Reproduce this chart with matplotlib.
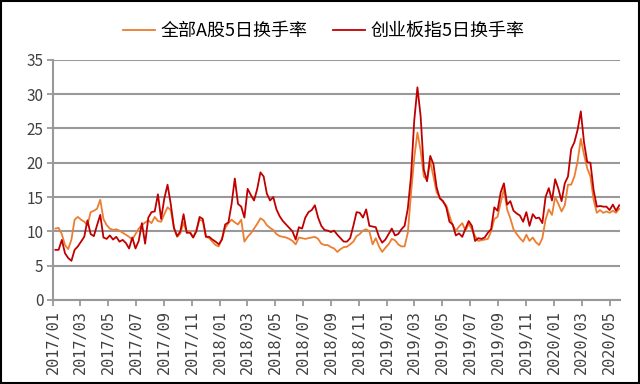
import matplotlib
matplotlib.use('Agg')
import matplotlib.pyplot as plt
import matplotlib.dates as mdates
import pandas as pd

plt.rcParams['font.family'] = ['Noto Sans CJK SC', 'DejaVu Sans']

# 5日换手率（周度读数），起点 2017-01-06
all_a = [10.4, 10.5, 9.6, 8.0, 7.4, 8.8, 11.7, 12.1, 11.7, 11.4,
         10.9, 12.8, 13.0, 13.3, 14.6, 11.8, 10.9, 10.4, 10.2, 10.3,
         10.1, 9.8, 9.5, 9.2, 8.8, 9.6, 10.4, 10.9, 11.3, 11.6,
         11.2, 12.1, 11.5, 11.4, 12.5, 13.5, 13.1, 10.5, 9.2, 9.7,
         11.3, 9.8, 10.0, 9.1, 10.2, 11.7, 11.5, 9.2, 9.0, 8.5,
         8.0, 7.8, 9.0, 10.5, 11.2, 11.7, 11.3, 11.0, 11.7, 8.5,
         9.2, 9.7, 10.4, 11.1, 11.9, 11.6, 10.9, 10.5, 10.2, 9.6,
         9.3, 9.2, 9.1, 8.9, 8.6, 8.1, 9.1, 9.0, 8.9, 9.0,
         9.1, 9.2, 8.9, 8.2, 8.0, 8.0, 7.7, 7.5, 7.0, 7.4,
         7.7, 7.75, 8.1, 8.5, 9.3, 9.6, 10.1, 10.3, 10.0, 8.1,
         9.0, 7.8, 7.0, 7.6, 8.1, 8.9, 8.7, 8.1, 7.8, 7.8,
         9.8, 15.5, 20.7, 24.4, 21.8, 18.0, 17.5, 20.2, 18.0, 15.7,
         14.9, 14.3, 13.8, 12.3, 10.9, 10.1, 10.7, 11.2, 10.1, 11.1,
         10.3, 9.3, 8.6, 8.7, 8.8, 8.9, 10.0, 11.8, 12.1, 14.2,
         16.2, 13.2, 11.9, 10.3, 9.6, 9.0, 8.5, 9.5, 8.6, 9.1,
         8.4, 8.0, 9.0, 11.7, 13.2, 12.4, 15.0, 14.0, 12.9, 13.8,
         16.8, 16.8, 18.0, 20.2, 23.5, 21.2, 19.2, 18.0, 14.6, 12.7,
         13.1, 12.7, 12.9, 12.7, 13.0, 12.7, 13.3]

chinext = [7.3, 7.3, 8.75, 6.8, 6.1, 5.7, 7.3, 7.8, 8.5, 9.2,
           11.6, 9.6, 9.3, 10.9, 12.4, 9.1, 8.9, 9.4, 8.8, 9.2,
           8.5, 8.75, 8.3, 7.5, 9.1, 7.5, 8.6, 11.2, 8.2, 12.0,
           12.8, 12.9, 15.4, 11.8, 14.8, 16.8, 14.0, 10.5, 9.3, 10.0,
           12.5, 9.8, 9.8, 9.1, 10.0, 12.1, 11.8, 9.2, 9.2, 8.8,
           8.5, 8.1, 8.8, 11.0, 11.3, 14.0, 17.7, 14.0, 13.6, 12.0,
           16.2, 15.3, 14.5, 16.2, 18.6, 18.0, 15.5, 14.5, 15.0, 13.2,
           12.2, 11.5, 11.0, 10.5, 10.0, 8.8, 10.6, 10.4, 12.0, 12.8,
           13.1, 13.8, 12.0, 10.8, 10.2, 10.1, 9.9, 10.1, 9.5, 9.0,
           8.5, 8.5, 9.0, 10.8, 12.8, 12.7, 12.0, 13.2, 10.8, 10.7,
           10.6, 9.2, 8.35, 8.8, 9.6, 10.4, 9.4, 9.6, 10.3, 10.8,
           13.3, 18.0, 26.1, 31.0, 26.8, 19.0, 17.3, 21.0, 19.8, 16.4,
           14.8, 14.4, 13.5, 11.4, 11.0, 9.4, 9.7, 9.2, 10.4, 11.5,
           10.8, 8.6, 9.0, 8.9, 9.1, 9.8, 10.3, 13.5, 13.0, 15.7,
           17.0, 13.9, 14.4, 13.0, 12.6, 12.3, 11.4, 12.8, 10.8, 12.5,
           11.9, 12.0, 11.2, 15.0, 16.3, 14.5, 17.6, 16.2, 14.4, 17.0,
           18.0, 22.0, 23.0, 24.8, 27.5, 23.0, 20.1, 20.0, 16.0, 13.6,
           13.7, 13.6, 13.6, 13.1, 13.9, 13.0, 13.8]

dates = pd.date_range('2017-01-06', periods=len(all_a), freq='W-FRI')

tick_dates = pd.date_range('2017-01-01', '2020-05-01', freq='2MS')
tick_labels = [d.strftime('%Y/%m') for d in tick_dates]

fig = plt.figure(figsize=(6.4, 3.84), dpi=100)
ax = fig.add_axes([0.083, 0.219, 0.886, 0.625])

ax.plot(dates, all_a, color='#ed7d31', lw=1.3, label='全部A股5日换手率')
ax.plot(dates, chinext, color='#c00000', lw=1.3, label='创业板指5日换手率')

ax.set_ylim(0, 35)
ax.set_yticks(range(0, 36, 5))
ax.set_xlim(pd.Timestamp('2017-01-01'), pd.Timestamp('2020-05-24'))
ax.set_xticks(tick_dates)
ax.set_xticklabels(tick_labels, rotation=90, family='DejaVu Sans Mono',
                   fontsize=11, color='#404040')
ax.tick_params(axis='y', labelsize=11, labelcolor='#404040', length=4,
               color='#999999', width=1.3, pad=3)
ax.tick_params(axis='x', length=4, color='#999999', width=1.3, pad=3)

ax.grid(axis='y', color='#999999', lw=1.5)
ax.set_axisbelow(True)
for s in ['top', 'right']:
    ax.spines[s].set_visible(False)
for s in ['left', 'bottom']:
    ax.spines[s].set_color('#999999')
    ax.spines[s].set_linewidth(1.5)

fig.legend(loc='upper center', bbox_to_anchor=(0.506, 0.985), ncol=2,
           frameon=False, fontsize=13, handlelength=1.8,
           handletextpad=0.3, columnspacing=1.4)

# 外框
fig.patches.append(plt.Rectangle((0.002, 0.003), 0.996, 0.994,
                                 transform=fig.transFigure, fill=False,
                                 edgecolor='black', lw=1.5))

fig.savefig('out.png', dpi=100)
